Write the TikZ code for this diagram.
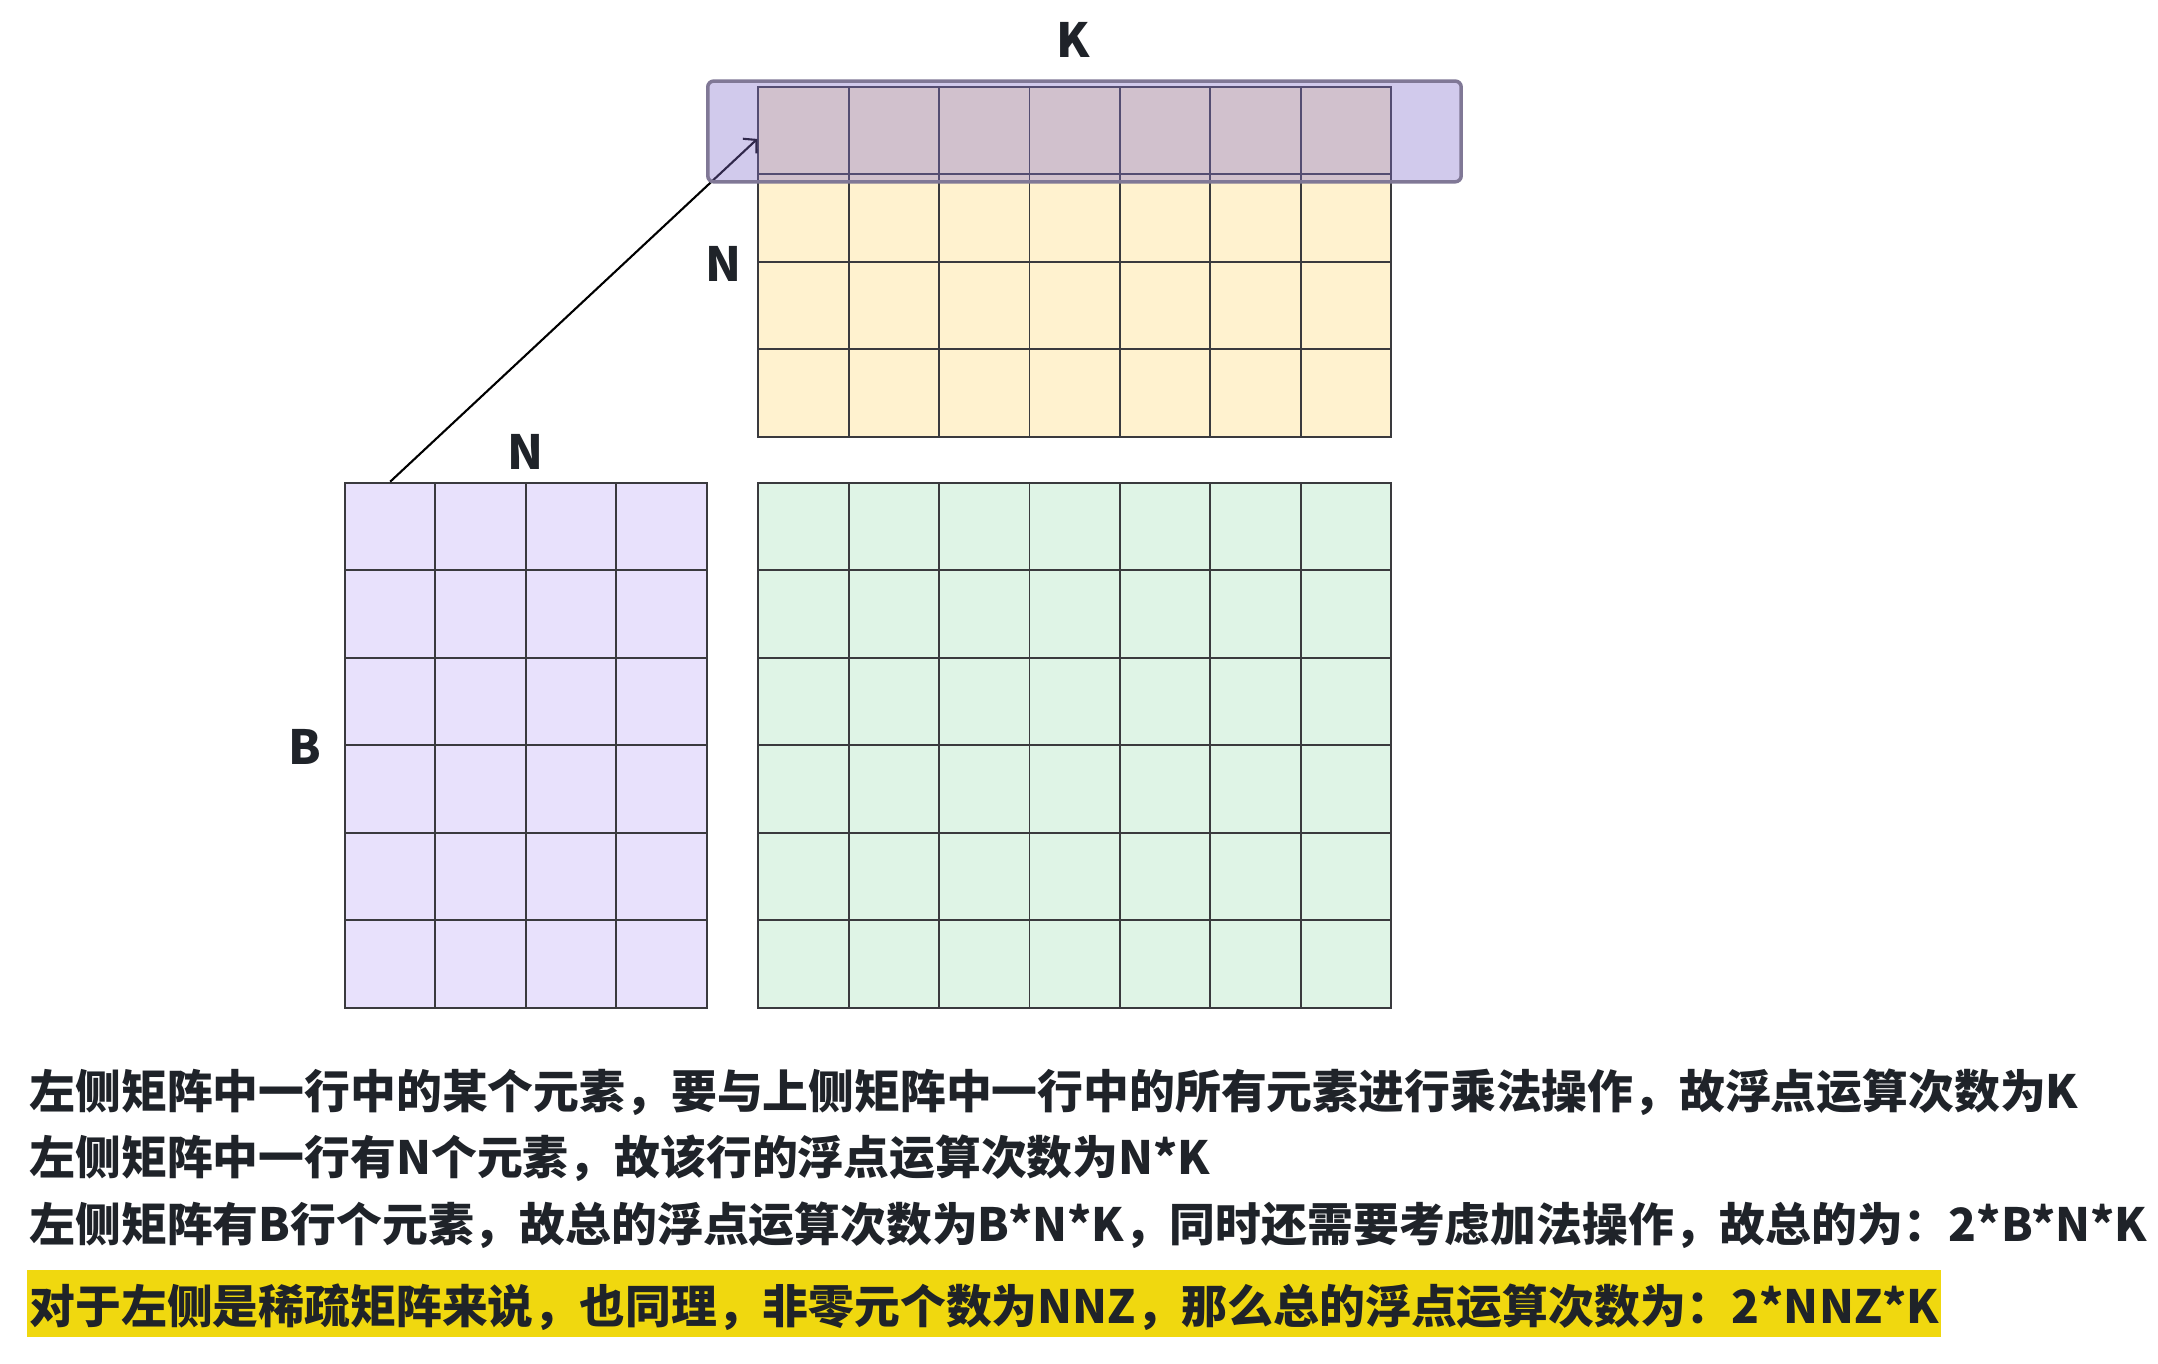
\documentclass[tikz,border=0pt]{standalone}
\usepackage{fontspec}
\setmainfont{Noto Sans CJK SC}
\usetikzlibrary{arrows.meta,positioning}
\definecolor{lhscolor}{RGB}{232,225,252}
\definecolor{rhscolor}{RGB}{255,242,207}
\definecolor{outcolor}{RGB}{223,244,230}
\definecolor{rowcolor}{RGB}{131,110,204}
\definecolor{rowedge}{RGB}{128,120,150}
\definecolor{gridcolor}{RGB}{58,58,62}
\definecolor{inkcolor}{RGB}{31,35,41}
\definecolor{markcolor}{RGB}{240,216,15}

\begin{document}
\begin{tikzpicture}[
    x=0.01cm, y=-0.01cm,
    cell/.style={draw=gridcolor, line width=0.55pt, minimum width=0.904cm, minimum height=0.875cm, inner sep=0pt, anchor=north west},
    lbl/.style={font=\fontsize{13.4pt}{16pt}\selectfont\bfseries, text=inkcolor, inner sep=0pt},
    note/.style={font=\fontsize{13.03pt}{16pt}\selectfont\bfseries, text=inkcolor, inner sep=0pt, anchor=base west},
    rowmark/.style={draw=rowedge, line width=1pt, fill=rowcolor, fill opacity=0.37, rounded corners=0.06cm, minimum width=7.53cm, minimum height=1.007cm, anchor=north west},
    arrow/.style={-{Straight Barb[length=0.09cm,width=0.2cm]}, line width=0.6pt}
]
    \useasboundingbox (0,0) rectangle (2158,1364);

    \foreach \r in {1,...,4}
        \foreach \c in {1,...,7}
            \node[cell, fill=rhscolor] (upper-\r-\c) at ({757.3+(\c-1)*90.4},{85.7+(\r-1)*87.5}) {};
    \foreach \r in {1,...,6}
        \foreach \c in {1,...,4}
            \node[cell, fill=lhscolor] (lhs-\r-\c) at ({344+(\c-1)*90.4},{481.7+(\r-1)*87.5}) {};
    \foreach \r in {1,...,6}
        \foreach \c in {1,...,7}
            \node[cell, fill=outcolor] (out-\r-\c) at ({757.3+(\c-1)*90.4},{481.7+(\r-1)*87.5}) {};

    \node[lbl] (kdim) at (1073.5,40) {K};
    \node[lbl] (ndimtop) at (723,264) {N};
    \node[lbl] (ndimleft) at (525,452) {N};
    \node[lbl] (bdim) at (305,747) {B};

    \draw[arrow] (lhs-1-1.north) -- ([yshift=-0.085cm]upper-1-1.west);
    \node[rowmark] (rowsel) at (706,79.3) {};

    \node[note] (line1) at (29,1108) {左侧矩阵中一行中的某个元素，要与上侧矩阵中一行中的所有元素进行乘法操作，故浮点运算次数为K};
    \node[note] (line2) at (29,1174.5) {左侧矩阵中一行有N个元素，故该行的浮点运算次数为N*K};
    \node[note] (line3) at (29,1241) {左侧矩阵有B行个元素，故总的浮点运算次数为B*N*K，同时还需要考虑加法操作，故总的为：2*B*N*K};
    \node[note, fill=markcolor, inner xsep=0.023cm, text height=0.535cm, text depth=0.135cm] (line4) at (26.7,1323.5) {对于左侧是稀疏矩阵来说，也同理，非零元个数为NNZ，那么总的浮点运算次数为：2*NNZ*K};
\end{tikzpicture}
\end{document}
